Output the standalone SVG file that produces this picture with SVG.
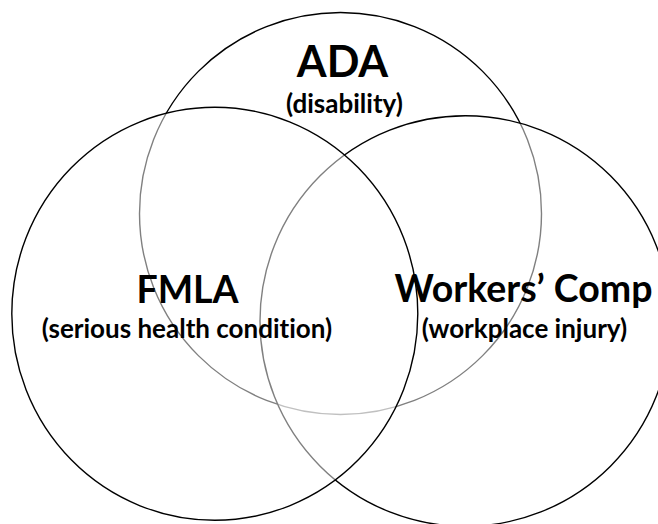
<svg xmlns="http://www.w3.org/2000/svg" width="658" height="524" viewBox="0 0 658 524">
  <style>
    .set { fill: #ffffff; fill-opacity: 0.5; stroke: #000000; stroke-width: 1.4; }
    text { font-family: Lato, "Open Sans", "Liberation Sans", sans-serif; font-weight: bold; fill: #000000; text-anchor: middle; font-variant-ligatures: none; font-feature-settings: "liga" 0, "clig" 0; }
    .big { font-size: 43px; }
    .mid { font-size: 37.5px; }
    .sub { font-size: 26px; }
  </style>
  <rect width="658" height="524" fill="#ffffff"/>

  <!-- Set outlines: each later set veils the edges beneath it -->
  <g id="ada">
    <circle class="set" cx="340.5" cy="213.5" r="201"/>
  </g>
  <g id="workers-comp">
    <circle class="set" cx="465.3" cy="321" r="205.3"/>
  </g>
  <g id="fmla">
    <ellipse class="set" cx="214.8" cy="313.8" rx="203" ry="206.5"/>
  </g>

  <!-- Labels sit above every outline -->
  <g id="ada-label">
    <text class="big" x="342.5" y="77">ADA</text>
    <text class="sub" x="344.5" y="113" font-size="27">(disability)</text>
  </g>
  <g id="fmla-label">
    <text class="mid" x="187.5" y="302.5">FMLA</text>
    <text class="sub" x="187" y="338">(serious health condition)</text>
  </g>
  <g id="workers-comp-label">
    <text class="mid" x="523.5" y="302">Workers’ Comp</text>
    <text class="sub" x="524.5" y="338">(workplace injury)</text>
  </g>
</svg>
